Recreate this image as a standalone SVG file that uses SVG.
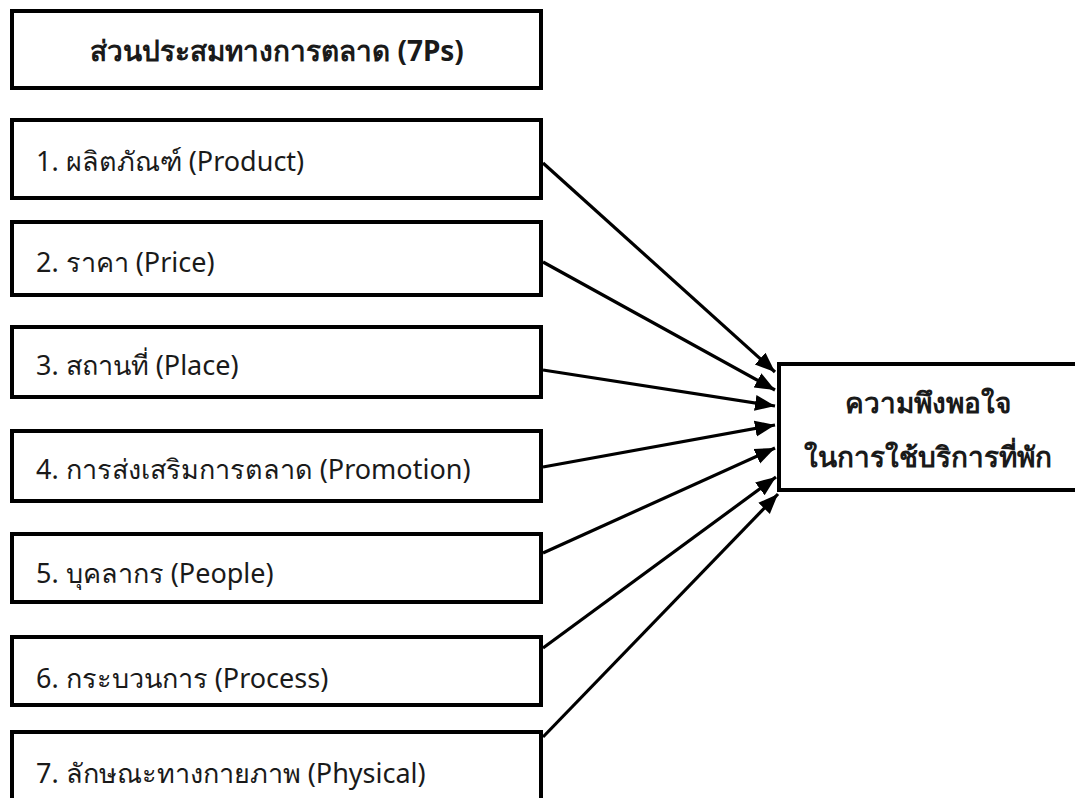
<svg xmlns="http://www.w3.org/2000/svg" width="1075" height="798" viewBox="0 0 1075 798">
<style>
.box{fill:#fff;stroke:#000;stroke-width:4}
.t{font-family:"Noto Sans","DejaVu Sans",sans-serif;font-size:27px;fill:#1a1a1a}
.b{font-weight:bold;text-anchor:middle;font-size:28px}
.c{stroke:#000;stroke-width:3.2;fill:none;marker-end:url(#ah)}
</style>
<defs>
<marker id="ah" markerUnits="userSpaceOnUse" markerWidth="22" markerHeight="18" refX="20" refY="9" orient="auto">
<path d="M0,1 L20,9 L0,17 Z" fill="#000"/>
</marker>
</defs>
<rect width="1075" height="798" fill="#fff"/>
<g id="title">
<rect class="box" x="12" y="11" width="529" height="77"/>
<text class="t b" x="277" y="61">ส่วนประสมทางการตลาด (7Ps)</text>
</g>
<g id="p1">
<rect class="box" x="12" y="120" width="529" height="78"/>
<text class="t" x="36" y="171">1. ผลิตภัณฑ์ (Product)</text>
</g>
<g id="p2">
<rect class="box" x="12" y="222" width="529" height="73"/>
<text class="t" x="36" y="272">2. ราคา (Price)</text>
</g>
<g id="p3">
<rect class="box" x="12" y="327" width="529" height="70"/>
<text class="t" x="36" y="375">3. สถานที่ (Place)</text>
</g>
<g id="p4">
<rect class="box" x="12" y="431" width="529" height="70"/>
<text class="t" x="36" y="479">4. การส่งเสริมการตลาด (Promotion)</text>
</g>
<g id="p5">
<rect class="box" x="12" y="534" width="529" height="68"/>
<text class="t" x="36" y="583">5. บุคลากร (People)</text>
</g>
<g id="p6">
<rect class="box" x="12" y="637" width="529" height="68"/>
<text class="t" x="36" y="688">6. กระบวนการ (Process)</text>
</g>
<g id="p7">
<rect class="box" x="12" y="732" width="529" height="90"/>
<text class="t" x="36" y="783">7. ลักษณะทางกายภาพ (Physical)</text>
</g>
<g id="result">
<rect class="box" x="779" y="364" width="320" height="126"/>
<text class="t b" x="928" y="413">ความพึงพอใจ</text>
<text class="t b" x="928" y="467">ในการใช้บริการที่พัก</text>
</g>
<g id="connectors">
<line class="c" x1="543" y1="163" x2="775" y2="372"/>
<line class="c" x1="543" y1="262" x2="775" y2="390"/>
<line class="c" x1="543" y1="370" x2="775" y2="406"/>
<line class="c" x1="543" y1="467" x2="775" y2="425"/>
<line class="c" x1="543" y1="553" x2="775" y2="448"/>
<line class="c" x1="543" y1="648" x2="776" y2="477"/>
<line class="c" x1="543" y1="737" x2="778" y2="494"/>
</g>
</svg>
